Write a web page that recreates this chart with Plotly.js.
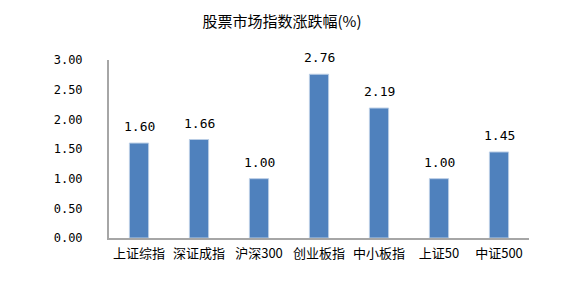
<!DOCTYPE html>
<html><head><meta charset="utf-8">
<script src="https://cdn.plot.ly/plotly-3.0.1.min.js"></script>
<style>body{margin:0;background:#fff}#c{width:564px;height:285px}</style>
</head><body><div id="c"></div>
<script>
const categories = ["上证综指","深证成指","沪深300","创业板指","中小板指","上证50","中证500"];
const values = [1.60, 1.66, 1.00, 2.76, 2.19, 1.00, 1.45];
const tickVals = [0, 0.5, 1, 1.5, 2, 2.5, 3];
const tickText = ["0.00","0.50","1.00","1.50","2.00","2.50","3.00"];
const titleText = "股票市场指数涨跌幅(%)";

const trace = {
  type: "bar", x: categories, y: values,
  marker: {color: "#4F81BD", line: {color: "#B9CDE5", width: 1}},
  width: 0.32, hoverinfo: "none"
};
const labels = categories.map((c, i) => ({
  x: c, y: values[i], xref: "x", yref: "y", text: values[i].toFixed(2),
  showarrow: false, yanchor: "bottom", yshift: 7,
  font: {family: "DejaVu Sans Mono, monospace", size: 13, color: "#000"}
}));
const layout = {
  width: 564, height: 285,
  margin: {l: 109, r: 35, t: 60, b: 47},
  paper_bgcolor: "#fff", plot_bgcolor: "#fff",
  title: {text: titleText, x: 0.5, xanchor: "center", y: 0.922, yanchor: "middle",
    font: {family: "Noto Sans CJK SC", size: 15, color: "#000"}},
  xaxis: {showline: true, linecolor: "#A6A6A6", linewidth: 2, ticks: "", showgrid: false,
    ticklabelstandoff: 2,
    tickfont: {family: "Noto Sans CJK SC", size: 13, color: "#000"}, fixedrange: true},
  yaxis: {range: [0, 3], tickvals: tickVals, ticktext: tickText, showline: true,
    linecolor: "#A6A6A6", linewidth: 2, showgrid: false, zeroline: false, ticks: "",
    ticklabelstandoff: 22, tickfont: {family: "DejaVu Sans Mono, monospace", size: 12, color: "#000"}},
  annotations: labels,
  showlegend: false, bargap: 0.68
};
Plotly.newPlot("c", [trace], layout, {staticPlot: true});
</script></body></html>
